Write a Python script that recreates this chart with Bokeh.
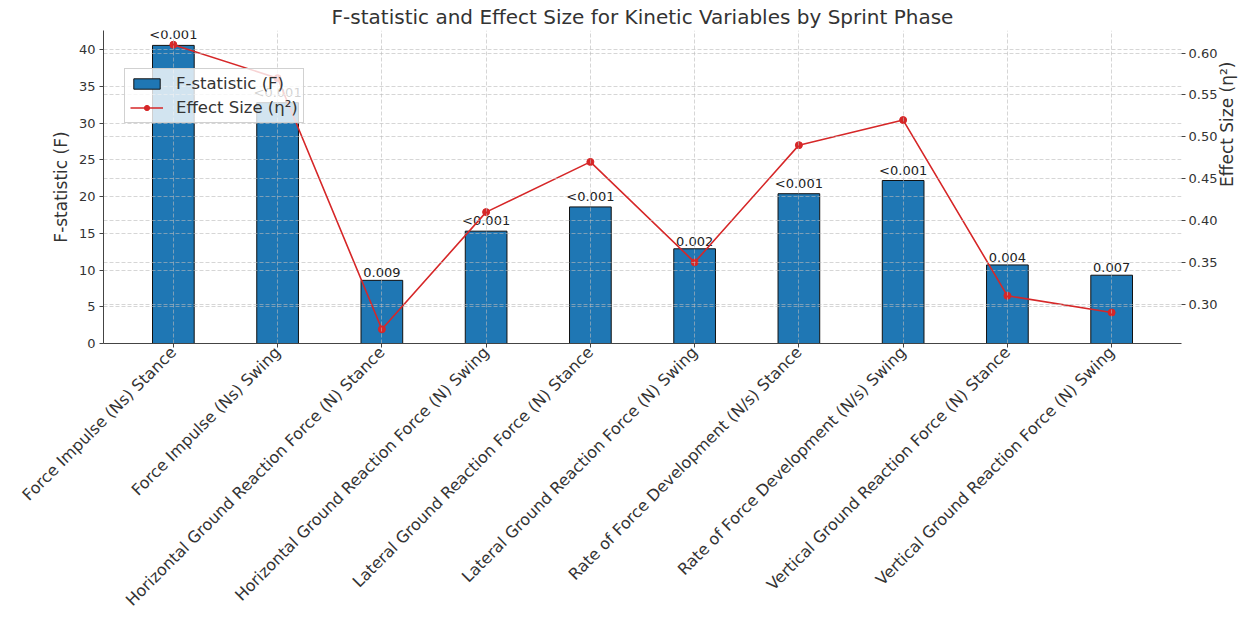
from bokeh.plotting import figure
from bokeh.models import (Range1d, LinearAxis, FixedTicker, NumeralTickFormatter,
                          Grid, Legend, LegendItem, ColumnDataSource, FactorRange)
from bokeh.core.properties import value
from bokeh.embed import file_html
from bokeh.resources import INLINE
import math

categories = [
    "Force Impulse (Ns) Stance",
    "Force Impulse (Ns) Swing",
    "Horizontal Ground Reaction Force (N) Stance",
    "Horizontal Ground Reaction Force (N) Swing",
    "Lateral Ground Reaction Force (N) Stance",
    "Lateral Ground Reaction Force (N) Swing",
    "Rate of Force Development (N/s) Stance",
    "Rate of Force Development (N/s) Swing",
    "Vertical Ground Reaction Force (N) Stance",
    "Vertical Ground Reaction Force (N) Swing",
]
f_stat = [40.6, 32.8, 8.6, 15.3, 18.6, 12.9, 20.4, 22.2, 10.7, 9.3]
eta_sq = [0.61, 0.57, 0.27, 0.41, 0.47, 0.35, 0.49, 0.52, 0.31, 0.29]
p_labels = ["<0.001", "<0.001", "0.009", "<0.001", "<0.001", "0.002",
            "<0.001", "<0.001", "0.004", "0.007"]
f_ticks = [0, 5, 10, 15, 20, 25, 30, 35, 40]
eta_ticks = [0.30, 0.35, 0.40, 0.45, 0.50, 0.55, 0.60]

FONT = "DejaVu Sans"
TXT = "#333333"

src = ColumnDataSource(dict(cat=categories, f=f_stat, eta=eta_sq, p=p_labels))

f_max = max(f_stat) * 1.05
e_lo, e_hi = min(eta_sq), max(eta_sq)
e_pad = (e_hi - e_lo) * 0.05

p = figure(
    width=1250, height=619,
    x_range=FactorRange(*categories, range_padding=0.17, range_padding_units="absolute"),
    y_range=Range1d(0, f_max),
    output_backend="svg", toolbar_location=None,
    title="F-statistic and Effect Size for Kinetic Variables by Sprint Phase",
    min_border_left=103, min_border_right=50, min_border_top=10, min_border_bottom=0,
)
p.extra_y_ranges = {"eta": Range1d(e_lo - e_pad, e_hi + e_pad)}
p.outline_line_color = None
p.background_fill_color = "white"

p.title.text_font = FONT
p.title.text_font_size = "20px"
p.title.text_font_style = "normal"
p.title.text_color = TXT
p.title.align = "center"
p.title.standoff = 4

# grids
p.ygrid.ticker = FixedTicker(ticks=f_ticks)
for g in (p.xgrid, p.ygrid):
    g.grid_line_color = "#bbbbbb"
    g.grid_line_dash = "4 2"
    g.grid_line_alpha = 0.6
p.ygrid.level = "underlay"
p.xgrid.level = "glyph"

# axes
xa = p.xaxis[0]
xa.major_label_orientation = math.pi / 4
xa.major_label_text_font = FONT
xa.major_label_text_font_size = "16px"
xa.major_label_text_color = TXT
xa.axis_line_color = "#444444"
xa.major_tick_line_color = "#444444"
xa.major_tick_out = 4
xa.major_tick_in = 0
xa.major_label_standoff = 2

ya = p.yaxis[0]
ya.ticker = FixedTicker(ticks=f_ticks)
ya.axis_label = "F-statistic (F)"
ya.axis_label_text_font = FONT
ya.axis_label_text_font_size = "17px"
ya.axis_label_text_font_style = "normal"
ya.axis_label_text_color = TXT
ya.major_label_text_font = FONT
ya.major_label_text_font_size = "13px"
ya.major_label_text_color = TXT
ya.axis_line_color = "#444444"
ya.major_tick_line_color = "#444444"
ya.major_tick_out = 4
ya.major_tick_in = 0
ya.minor_tick_line_color = None
ya.major_label_standoff = 4

ra = LinearAxis(y_range_name="eta", ticker=FixedTicker(ticks=eta_ticks),
                formatter=NumeralTickFormatter(format="0.00"))
ra.axis_label = "Effect Size (η²)"
ra.axis_label_text_font = FONT
ra.axis_label_text_font_size = "17px"
ra.axis_label_text_font_style = "normal"
ra.axis_label_text_color = TXT
ra.axis_label_standoff = 7
try:
    ra.axis_label_orientation = math.pi / 2
except Exception:
    pass
ra.major_label_text_font = FONT
ra.major_label_text_font_size = "13px"
ra.major_label_text_color = TXT
ra.axis_line_color = None
ra.major_tick_line_color = "#444444"
ra.major_tick_out = 4
ra.major_tick_in = 0
ra.minor_tick_line_color = None
ra.major_label_standoff = 3
p.add_layout(ra, "right")

eg = Grid(dimension=1, ticker=ra.ticker, y_range_name="eta",
          grid_line_color="#bbbbbb", grid_line_dash="4 2", grid_line_alpha=0.6,
          level="glyph")
p.add_layout(eg)

# bars
bars = p.vbar(x="cat", top="f", width=0.4, source=src, fill_color="#1f77b4",
              line_color="#111111", line_width=1, level="underlay")

# p-value labels
p.text(x="cat", y="f", text="p", source=src, text_align="center",
       text_baseline="bottom", y_offset=-3, text_font=value(FONT),
       text_font_size="13px", text_color="#222222")

# effect size line
ln = p.line(x="cat", y="eta", source=src, y_range_name="eta",
            line_color="#d62728", line_width=1.6)
pts = p.scatter(x="cat", y="eta", source=src, y_range_name="eta",
                size=7, fill_color="#d62728", line_color="#d62728")

legend = Legend(items=[LegendItem(label="F-statistic (F)", renderers=[bars]),
                       LegendItem(label="Effect Size (η²)", renderers=[ln, pts])],
                location=(21, 220))
legend.label_text_font = FONT
legend.label_text_font_size = "16.5px"
legend.label_text_color = TXT
legend.border_line_color = "#cccccc"
legend.border_line_alpha = 0.9
legend.background_fill_alpha = 0.8
legend.glyph_width = 33
legend.glyph_height = 13
legend.label_standoff = 13
legend.padding = 5
legend.spacing = 5
legend.margin = 0
p.add_layout(legend, "center")

open("out.html", "w").write(file_html(p, INLINE))
